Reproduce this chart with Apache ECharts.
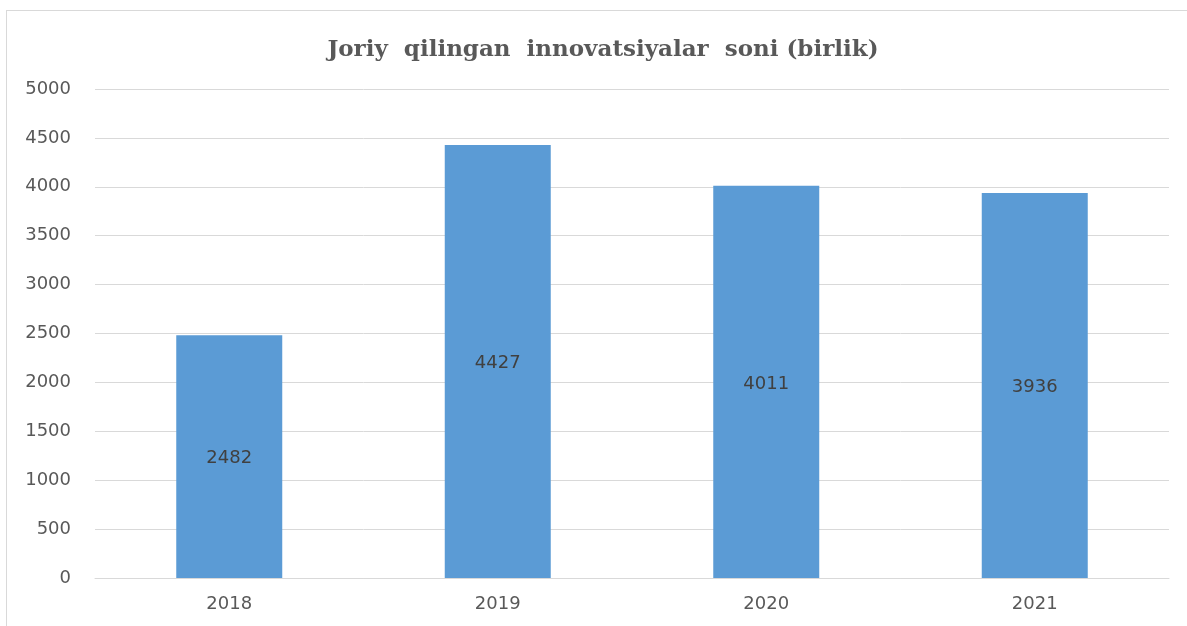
<!DOCTYPE html>
<html>
<head>
<meta charset="utf-8">
<script src="https://cdn.jsdelivr.net/npm/echarts@6/dist/echarts.min.js"></script>
<style>
  html, body { margin: 0; padding: 0; background: #fff; }
  #frame { position: absolute; left: 6px; top: 10px; right: -2px; bottom: -2px;
           border: 1px solid #d9d9d9; }
  #main { position: absolute; left: 0; top: 0; width: 1187px; height: 626px; }
</style>
</head>
<body>
<div id="frame"></div>
<div id="main"></div>
<script>
var years = ['2018', '2019', '2020', '2021'];
var innovations = [2482, 4427, 4011, 3936];

var chart = echarts.init(document.getElementById('main'));
var option = {
  animation: false,
  title: {
    text: 'Joriy  qilingan  innovatsiyalar  soni (birlik)',
    left: 598,
    textAlign: 'center',
    top: 34,
    textStyle: {
      fontFamily: 'DejaVu Serif',
      fontWeight: 'bold',
      fontSize: 23,
      color: '#595959'
    }
  },
  grid: { left: 95, right: 18, top: 89, bottom: 48 },
  xAxis: {
    type: 'category',
    data: years,
    axisLine: { lineStyle: { color: '#d9d9d9', width: 1 } },
    axisTick: { show: false },
    axisLabel: { color: '#595959', fontSize: 18, fontFamily: 'DejaVu Sans', margin: 17 }
  },
  yAxis: {
    type: 'value',
    min: 0,
    max: 5000,
    interval: 500,
    axisLine: { show: false },
    axisTick: { show: false },
    splitLine: { lineStyle: { color: '#d9d9d9', width: 1 } },
    axisLabel: {
      color: '#595959', fontSize: 18, fontFamily: 'DejaVu Sans', margin: 24,
      formatter: function (v) { return String(v); }
    }
  },
  series: [{
    type: 'bar',
    data: innovations,
    barWidth: 106,
    itemStyle: { color: '#5b9bd5' },
    label: {
      show: true,
      position: 'inside',
      offset: [0, 2],
      color: '#404040',
      fontSize: 18,
      fontFamily: 'DejaVu Sans'
    }
  }]
};
chart.setOption(option);
</script>
</body>
</html>
